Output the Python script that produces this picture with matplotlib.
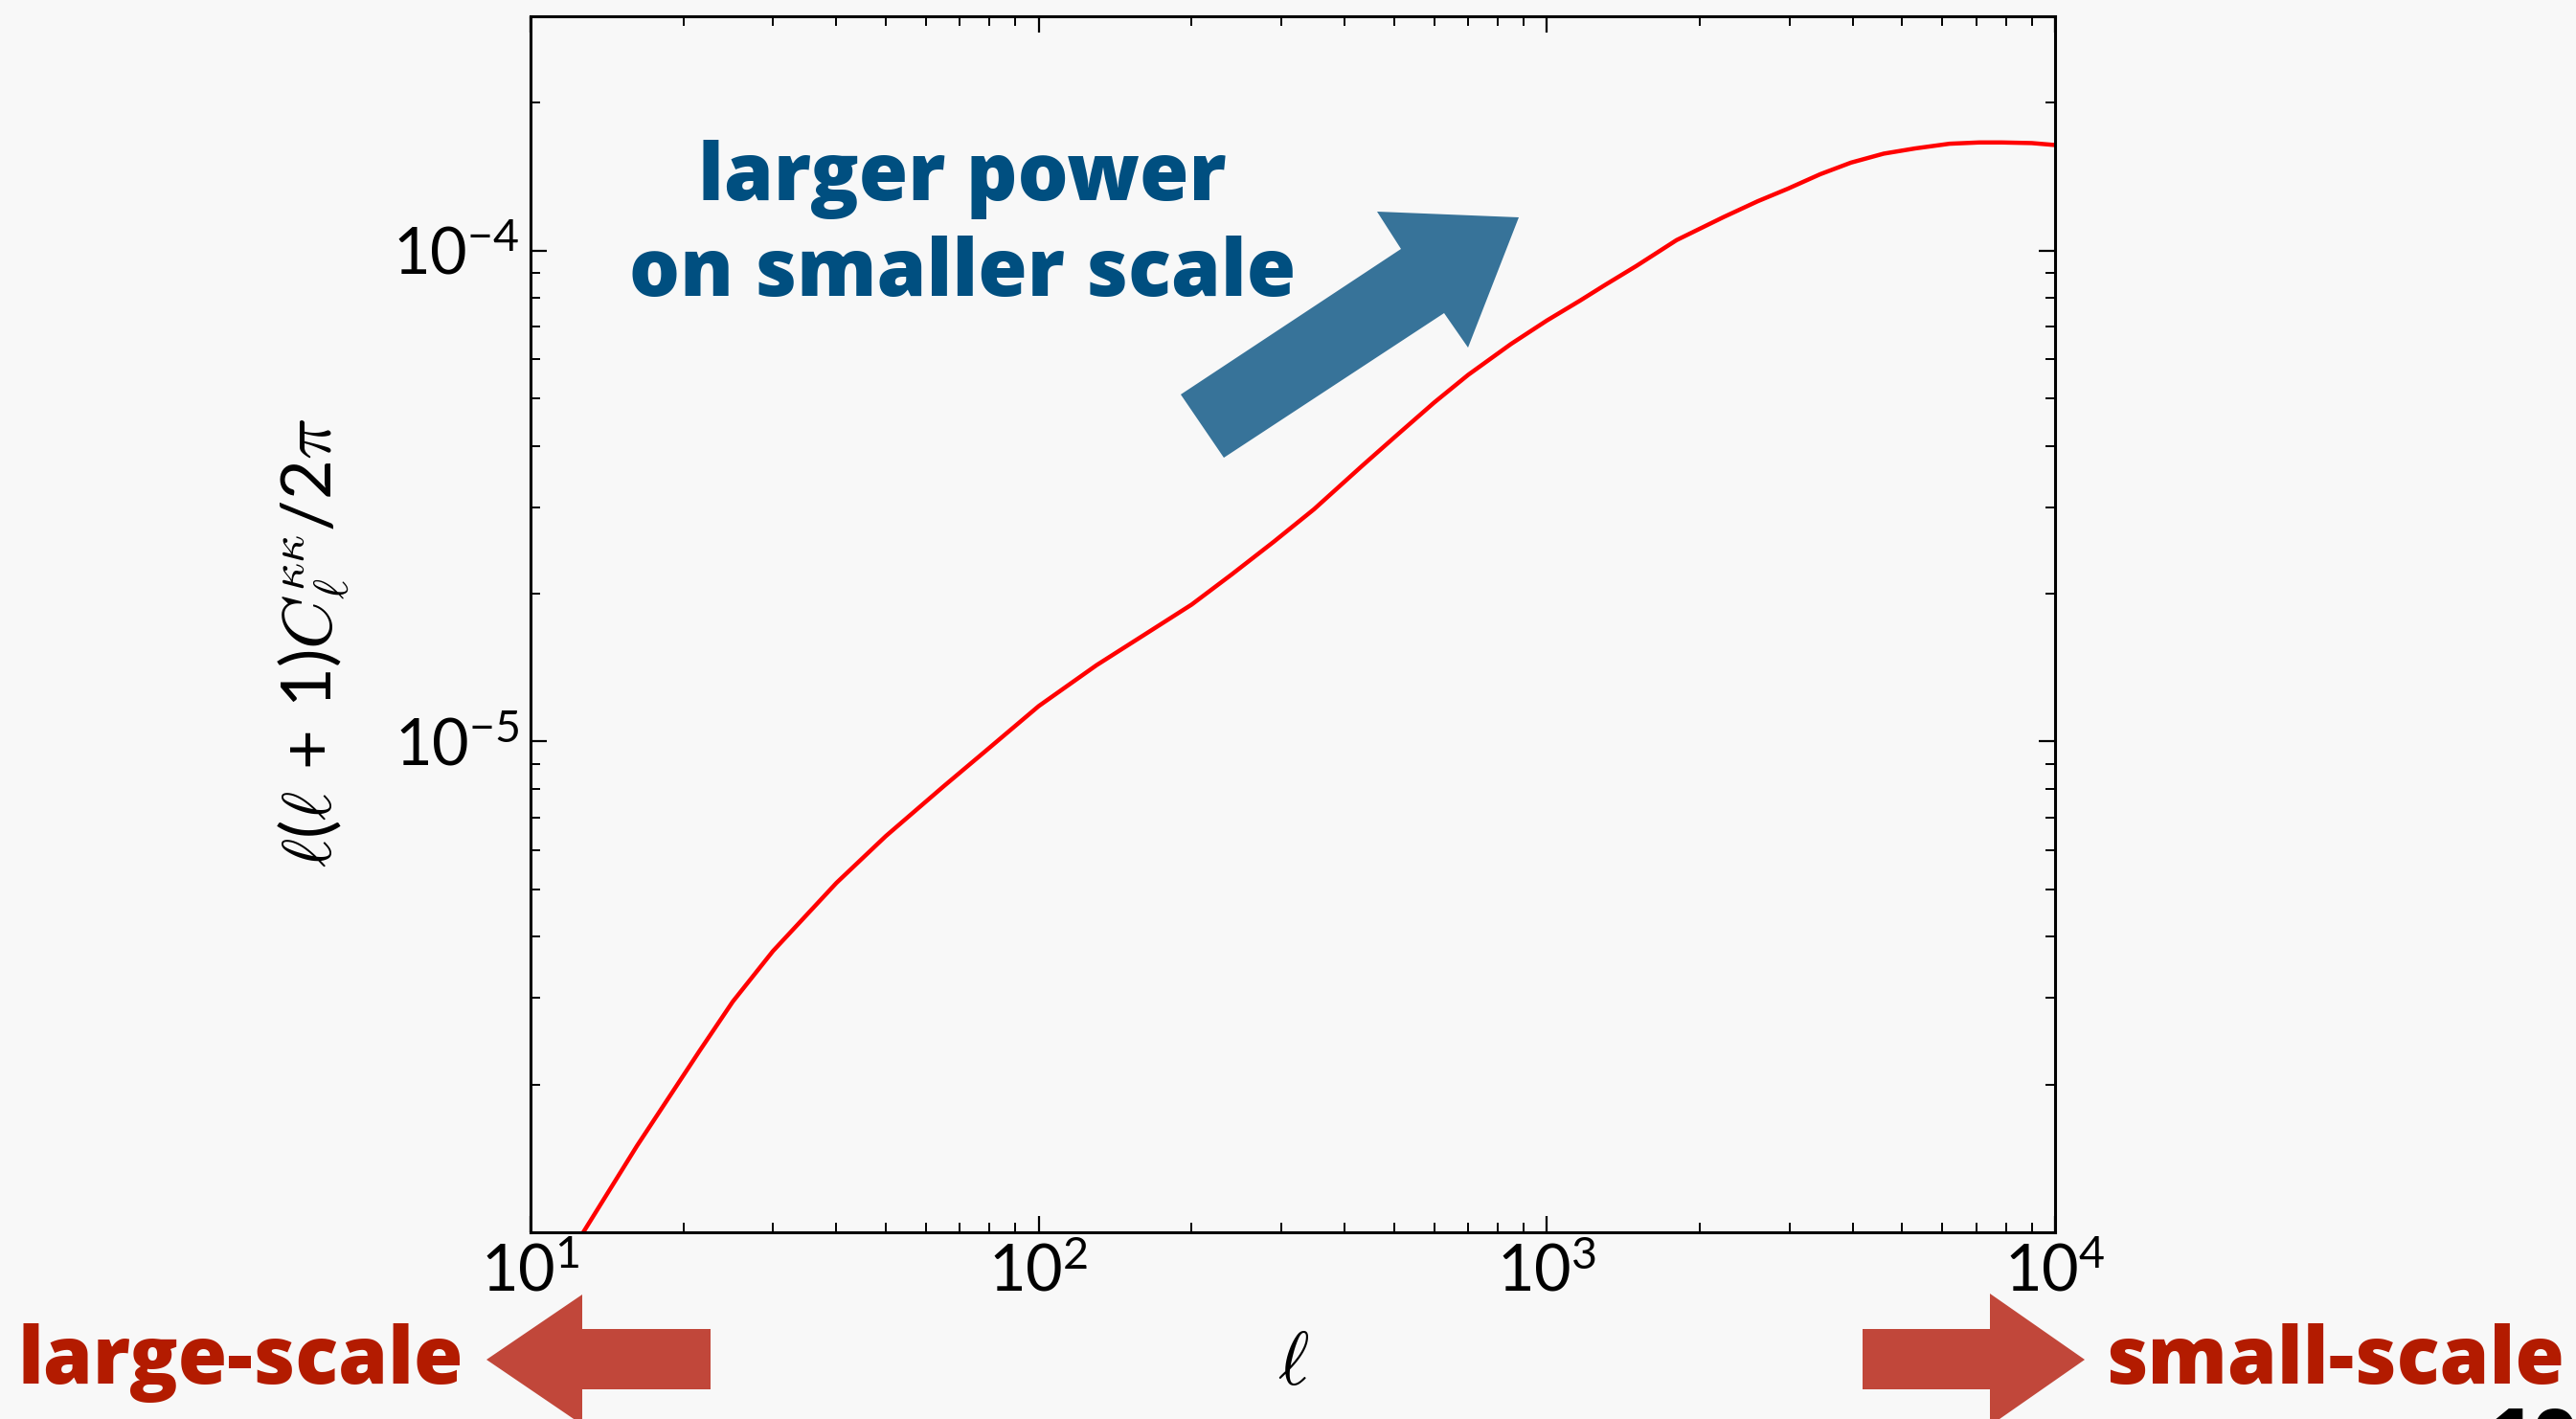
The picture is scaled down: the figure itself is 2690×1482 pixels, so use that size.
import matplotlib
matplotlib.use("Agg")
import matplotlib.pyplot as plt
from matplotlib.patches import Polygon
from matplotlib.ticker import LogLocator, NullFormatter, LogFormatterSciNotation

# ---- data ----
ell = [12.7, 16.2, 21.5, 25, 30, 40, 50, 65, 79, 100, 130, 166, 200, 240, 290,
       348, 434, 506, 600, 700, 850, 1000, 1161, 1300, 1500, 1800, 2228, 2600,
       2979, 3450, 3966, 4600, 5304, 6200, 7096, 7840, 9000, 10000]
cl_kk = [1.0e-6, 1.5e-6, 2.34e-6, 2.95e-6, 3.74e-6, 5.15e-6, 6.41e-6, 8.1e-6,
         9.6e-6, 1.18e-5, 1.43e-5, 1.68e-5, 1.9e-5, 2.19e-5, 2.55e-5, 2.97e-5,
         3.65e-5, 4.2e-5, 4.9e-5, 5.58e-5, 6.45e-5, 7.2e-5, 7.9e-5, 8.5e-5,
         9.3e-5, 1.05e-4, 1.17e-4, 1.26e-4, 1.336e-4, 1.43e-4, 1.51e-4,
         1.575e-4, 1.614e-4, 1.65e-4, 1.66e-4, 1.66e-4, 1.655e-4, 1.64e-4]
x_ticks = [10, 100, 1000, 10000]
y_ticks = [1e-5, 1e-4]
x_lim = (10, 10000)
y_lim = (1e-6, 3e-4)

W, H = 2690, 1482
BG = "#f8f8f8"

plt.rcParams["font.family"] = ["Lato", "DejaVu Sans"]
plt.rcParams["mathtext.fontset"] = "cm"

fig = plt.figure(figsize=(W / 100, H / 100), dpi=100, facecolor=BG)
ax = fig.add_axes([554 / W, 1 - 1287 / H, 1592 / W, 1270 / H], facecolor=BG)

ax.plot(ell, cl_kk, color="#ff0000", lw=3.2, solid_joinstyle="round")
ax.set_xscale("log")
ax.set_yscale("log")
ax.set_xlim(*x_lim)
ax.set_ylim(*y_lim)
ax.set_xticks(x_ticks)
ax.set_yticks(y_ticks)
ax.xaxis.set_minor_locator(LogLocator(base=10, subs=range(2, 10), numticks=20))
ax.yaxis.set_minor_locator(LogLocator(base=10, subs=range(2, 10), numticks=20))
ax.xaxis.set_major_formatter(LogFormatterSciNotation())
ax.yaxis.set_major_formatter(LogFormatterSciNotation())
ax.xaxis.set_minor_formatter(NullFormatter())
ax.yaxis.set_minor_formatter(NullFormatter())

ax.tick_params(which="both", direction="in", top=True, right=True, color="black")
ax.tick_params(which="major", length=12, width=1.6, labelsize=48, pad=8)
ax.tick_params(which="minor", length=7, width=1.4)
for s in ax.spines.values():
    s.set_linewidth(2.2)
    s.set_color("black")

ax.set_xlabel(r"$\ell$", fontsize=56)
ax.xaxis.label.set_va("center")
ax.xaxis.set_label_coords(0.5, -0.108)
ax.set_ylabel(r"$\ell\mathdefault{(}\ell\mathdefault{\,+\,1)}C_\ell^{\kappa\kappa}\mathdefault{/2}\pi$",
              fontsize=52)
ax.yaxis.label.set_va("center")
ax.yaxis.set_label_coords(-0.142, 0.485)

def fpoly(pts, color):
    p = Polygon([(x / W, 1 - y / H) for x, y in pts], closed=True,
                transform=fig.transFigure, facecolor=color, edgecolor="none",
                clip_on=False)
    fig.patches.append(p)

# blue arrow
fpoly([(1233, 412), (1463, 260), (1438, 221), (1586, 227), (1533, 363),
       (1508, 327), (1278, 478)], "#377399")
# red arrows
red_arrow = "#c1473a"
fpoly([(508, 1420), (608, 1352), (608, 1388), (742, 1388), (742, 1451),
       (608, 1451), (608, 1488)], red_arrow)
fpoly([(1945, 1388), (2078, 1388), (2078, 1351), (2177, 1420), (2078, 1489),
       (2078, 1451), (1945, 1451)], red_arrow)

blue_txt = "#004f80"
red_txt = "#b31b00"
big = dict(fontsize=60, fontweight="heavy", family=["Open Sans", "Lato", "DejaVu Sans"])
fig.text(1005 / W, 1 - 209 / H, "larger power", ha="center", va="baseline",
         color=blue_txt, **big)
fig.text(1005 / W, 1 - 309 / H, "on smaller scale", ha="center", va="baseline",
         color=blue_txt, **big)
fig.text(18 / W, 1 - 1445 / H, "large-scale", ha="left", va="baseline",
         color=red_txt, **big)
fig.text(2678 / W, 1 - 1445 / H, "small-scale", ha="right", va="baseline",
         color=red_txt, **big)
fig.text(2596 / W, 1 - 1468 / H, "10", ha="left", va="top",
         color="black", **big)

fig.savefig("out.png", dpi=100, facecolor=BG)
